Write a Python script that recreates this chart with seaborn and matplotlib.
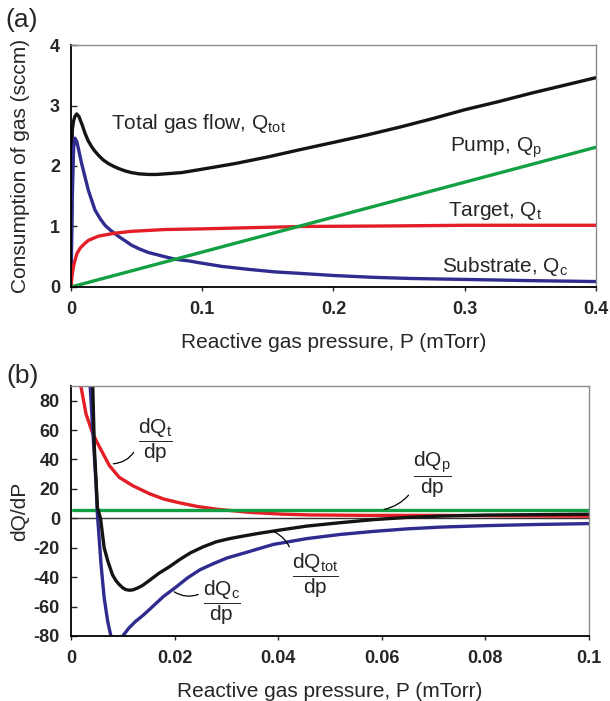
import matplotlib
matplotlib.use("Agg")
import matplotlib.pyplot as plt
import seaborn as sns

# panel (a): consumption of gas vs pressure
p_tot = [0, 0.0005, 0.001, 0.002, 0.003, 0.0043, 0.006, 0.0085, 0.0107, 0.013, 0.0157,
         0.018, 0.0208, 0.0245, 0.0285, 0.032, 0.036, 0.041, 0.0462, 0.052, 0.059, 0.065,
         0.0716, 0.084, 0.098, 0.125, 0.15, 0.1745, 0.2, 0.225, 0.25, 0.275, 0.3, 0.325,
         0.35, 0.375, 0.4]
q_tot = [0, 1.4, 2.6, 2.75, 2.82, 2.86, 2.82, 2.68, 2.54, 2.42, 2.32,
         2.25, 2.18, 2.1, 2.04, 2.0, 1.96, 1.92, 1.89, 1.87, 1.86, 1.86,
         1.87, 1.89, 1.94, 2.04, 2.15, 2.27, 2.39, 2.51, 2.64, 2.78, 2.93, 3.06,
         3.2, 3.33, 3.46]

p_c = [0, 0.001, 0.002, 0.003, 0.0045, 0.0081, 0.0132, 0.0183, 0.0225, 0.0259, 0.03,
       0.036, 0.0415, 0.0462, 0.052, 0.059, 0.0716, 0.079, 0.09, 0.098, 0.115, 0.136,
       0.155, 0.1745, 0.2, 0.23, 0.26, 0.3, 0.35, 0.4]
q_c = [0, 1.5, 2.3, 2.46, 2.4, 2.04, 1.6, 1.27, 1.12, 1.02, 0.94,
       0.84, 0.76, 0.69, 0.63, 0.57, 0.5, 0.46, 0.43, 0.4, 0.34, 0.29,
       0.25, 0.225, 0.19, 0.16, 0.14, 0.125, 0.105, 0.09]

p_t = [0, 0.0005, 0.001, 0.002, 0.003, 0.0045, 0.0069, 0.01, 0.0132, 0.0208, 0.0335,
       0.0462, 0.0716, 0.098, 0.175, 0.25, 0.3, 0.4]
q_t = [0, 0.12, 0.22, 0.35, 0.44, 0.55, 0.64, 0.71, 0.77, 0.84, 0.89,
       0.92, 0.95, 0.96, 1.0, 1.01, 1.02, 1.02]

p_p = [0, 0.4]
q_p = [0, 2.31]

# panel (b): derivatives dQ/dP
pb_t = [0.0012, 0.0019, 0.0029, 0.0042, 0.0055, 0.0074, 0.0093, 0.0119, 0.0153, 0.018,
        0.021, 0.0245, 0.0281, 0.0346, 0.041, 0.046, 0.057, 0.07, 0.08, 0.09, 0.1]
d_t = [110, 90, 71, 57.6, 48.5, 35.9, 27.9, 22.2, 16.5, 13.0,
       10.5, 8.0, 6.2, 4.0, 2.8, 2.3, 2.0, 2.0, 1.8, 1.6, 1.5]

pb_tot = [0.004, 0.0042, 0.0045, 0.0051, 0.0057, 0.0064, 0.0071, 0.008, 0.0087, 0.0093,
          0.01, 0.0106, 0.0113, 0.0119, 0.0128, 0.0138, 0.0153, 0.017, 0.0191, 0.021,
          0.023, 0.0255, 0.0281, 0.0305, 0.0326, 0.0358, 0.039, 0.0422, 0.0455, 0.0519,
          0.0584, 0.0648, 0.0712, 0.08, 0.09, 0.1]
d_tot = [110, 90, 48.5, 7.3, 0, -20, -29, -38.4, -42.5, -45,
         -47.3, -48.5, -48.9, -48.7, -47.5, -45.7, -41.8, -37.3, -32.7, -28,
         -23.6, -19.4, -15.9, -13.9, -12.5, -10.5, -8.7, -7, -5.3, -3.0,
         -0.9, 0.6, 1.5, 2.2, 2.5, 2.8]

pb_c = [0.0035, 0.0037, 0.0042, 0.0048, 0.0051, 0.0058, 0.0064, 0.0071, 0.0077, 0.0088,
        0.01, 0.0112, 0.0125, 0.0139, 0.0153, 0.0178, 0.0204, 0.0225, 0.0249, 0.0275,
        0.0301, 0.0346, 0.039, 0.0455, 0.0519, 0.0584, 0.0648, 0.0712, 0.08, 0.09, 0.1]
d_c = [110, 90, 60, 25.6, 2.7, -31.5, -54, -70.4, -80, -88,
       -80, -74.5, -70, -66, -61.5, -53.3, -46.4, -40.5, -35, -30.8,
       -27, -22.4, -17.8, -13.8, -11, -8.9, -7.2, -6, -5, -4.2, -3.6]

pb_p = [0.0003, 0.1]
d_p = [5.8, 5.8]

xticks_a = [0, 0.1, 0.2, 0.3, 0.4]
xlabels_a = ["0", "0.1", "0.2", "0.3", "0.4"]
yticks_a = [0, 1, 2, 3, 4]
xticks_b = [0, 0.02, 0.04, 0.06, 0.08, 0.1]
xlabels_b = ["0", "0.02", "0.04", "0.06", "0.08", "0.1"]
yticks_b = [-80, -60, -40, -20, 0, 20, 40, 60, 80]

BLACK = "#141414"
RED = "#e41e26"
GREEN = "#13a043"
BLUE = "#2f2b8f"

sns.set_theme(style="ticks")
plt.rcParams["font.family"] = ["Liberation Sans", "DejaVu Sans"]
plt.rcParams["mathtext.default"] = "regular"
plt.rcParams["mathtext.fontset"] = "custom"
plt.rcParams["mathtext.rm"] = "Liberation Sans"
plt.rcParams["mathtext.it"] = "Liberation Sans:italic"

fig = plt.figure(figsize=(6.1, 7.01), dpi=100)
ax1 = fig.add_axes([0.1164, 0.5906, 0.977 - 0.1164, 0.9358 - 0.5906])
ax2 = fig.add_axes([0.1164, 0.0928, 0.9656 - 0.1164, 0.4494 - 0.0928])

lw = 2.4
sns.lineplot(x=p_tot, y=q_tot, ax=ax1, color=BLACK, lw=lw)
sns.lineplot(x=p_c, y=q_c, ax=ax1, color=BLUE, lw=lw)
sns.lineplot(x=p_t, y=q_t, ax=ax1, color=RED, lw=lw)
sns.lineplot(x=p_p, y=q_p, ax=ax1, color=GREEN, lw=lw)

ax2.axhline(0, color="#333333", lw=1)
sns.lineplot(x=pb_t, y=d_t, ax=ax2, color=RED, lw=lw)
sns.lineplot(x=pb_p, y=d_p, ax=ax2, color=GREEN, lw=lw)
sns.lineplot(x=pb_c, y=d_c, ax=ax2, color=BLUE, lw=lw)
sns.lineplot(x=pb_tot, y=d_tot, ax=ax2, color=BLACK, lw=lw)

for ax in (ax1, ax2):
    for s in ("left", "bottom"):
        ax.spines[s].set_color("black")
        ax.spines[s].set_linewidth(1.3)
    for s in ("top", "right"):
        ax.spines[s].set_color("#8a8a8a")
        ax.spines[s].set_linewidth(1.0)
    ax.tick_params(axis="y", direction="in", length=4, width=1, pad=8, labelsize=13)
    ax.tick_params(axis="x", direction="out", length=3, width=1, pad=7, labelsize=13)

ax1.set_xlim(0, 0.4)
ax1.set_ylim(0, 4)
ax1.set_xticks(xticks_a)
ax1.set_xticklabels(xlabels_a, fontweight="bold")
ax1.set_yticks(yticks_a)
ax1.set_yticklabels([str(v) for v in yticks_a], fontweight="bold")
ax1.set_xlabel("Reactive gas pressure, P (mTorr)", fontsize=15, labelpad=11)
ax1.set_ylabel("Consumption of gas (sccm)", fontsize=15, labelpad=14)

ax2.set_xlim(0, 0.1)
ax2.set_ylim(-80, 90)
ax2.set_xticks(xticks_b)
ax2.set_xticklabels(xlabels_b, fontweight="bold")
ax2.set_yticks(yticks_b)
ax2.set_yticklabels([str(v) for v in yticks_b], fontweight="bold")
ax2.set_xlabel("Reactive gas pressure, P (mTorr)", fontsize=15, labelpad=11)
ax2.set_ylabel("dQ/dP", fontsize=15, labelpad=3)

# labels in panel (a)
ax1.text(0.0304, 2.61, "Total gas flow, Q$_{tot}$", fontsize=15, va="baseline")
ax1.text(0.289, 2.24, "Pump, Q$_{p}$", fontsize=15, va="baseline")
ax1.text(0.287, 1.17, "Target, Q$_{t}$", fontsize=15, va="baseline")
ax1.text(0.283, 0.247, "Substrate, Q$_{c}$", fontsize=15, va="baseline")

# fraction labels in panel (b), with thin leader lines
lead = dict(arrowstyle="-", color="black", lw=0.9, shrinkA=1, shrinkB=1)
ax2.annotate(r"$\dfrac{dQ_t}{dp}$", xy=(0.0079, 37), xytext=(0.0162, 52.6),
             fontsize=15, ha="center", va="center",
             arrowprops=dict(lead, relpos=(0.0, 0.45), connectionstyle="arc3,rad=-0.35"))
ax2.annotate(r"$\dfrac{dQ_p}{dp}$", xy=(0.0602, 5.8), xytext=(0.0697, 29.5),
             fontsize=15, ha="center", va="center",
             arrowprops=dict(lead, relpos=(0.1, 0.35), connectionstyle="arc3,rad=-0.25"))
ax2.annotate(r"$\dfrac{dQ_{tot}}{dp}$", xy=(0.039, -8.7), xytext=(0.0471, -39),
             fontsize=15, ha="center", va="center",
             arrowprops=dict(lead, relpos=(0.0, 0.72), connectionstyle="arc3,rad=0.35"))
ax2.annotate(r"$\dfrac{dQ_c}{dp}$", xy=(0.0197, -49.5), xytext=(0.0291, -57.6),
             fontsize=15, ha="center", va="center",
             arrowprops=dict(lead, relpos=(0.0, 0.72), connectionstyle="arc3,rad=-0.3"))

fig.text(0.008, 0.9715, "(a)", fontsize=19, va="center", ha="left")
fig.text(0.011, 0.4636, "(b)", fontsize=19, va="center", ha="left")

fig.savefig("out.png", dpi=100)
